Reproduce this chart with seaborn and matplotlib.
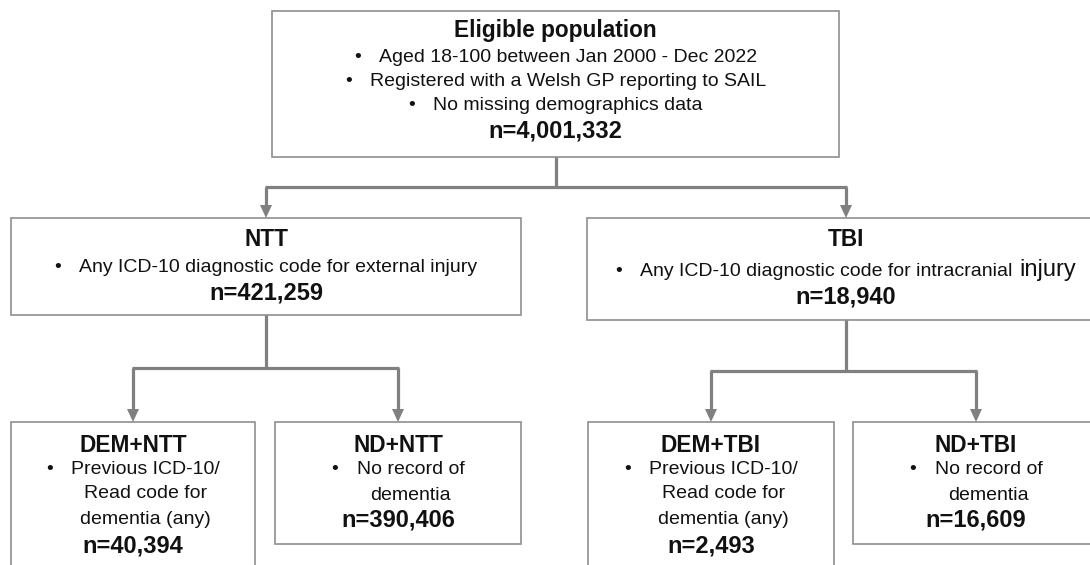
import matplotlib
matplotlib.use("Agg")
import matplotlib.pyplot as plt
from matplotlib.patches import Rectangle, Polygon
import seaborn as sns

# ---- data ----
titles = ["Eligible population", "NTT", "TBI", "DEM+NTT", "ND+NTT", "DEM+TBI", "ND+TBI"]
counts = [4001332, 421259, 18940, 40394, 390406, 2493, 16609]
criteria = [
    ["Aged 18-100 between Jan 2000 - Dec 2022",
     "Registered with a Welsh GP reporting to SAIL",
     "No missing demographics data"],
    ["Any ICD-10 diagnostic code for external injury"],
    ["Any ICD-10 diagnostic code for intracranial injury"],
    ["Previous ICD-10/\nRead code for\ndementia (any)"],
    ["No record of\ndementia"],
    ["Previous ICD-10/\nRead code for\ndementia (any)"],
    ["No record of\ndementia"],
]
parents = [None, 0, 0, 1, 1, 2, 2]

# ---- layout (pixels, y down) ----
boxes = [(272, 11, 839, 157), (11, 218, 521, 315), (587, 218, 1105, 320),
         (11, 422, 255, 600), (275, 422, 521, 544),
         (588, 422, 834, 600), (853, 422, 1099, 544)]
rows = [[31, 57, 81, 105, 131], [240, 267, 293], [240, 271, 297],
        [445, 470, 494, 519, 546], [446, 470, 495, 520],
        [445, 470, 494, 519, 546], [446, 470, 495, 520]]
branch_y = {0: 187, 1: 368, 2: 371}
big_word = {2: "injury"}   # this word is set larger in the original

edge_col = "#8f8f8f"
line_col = "#808080"
txt_col = "#111111"
title_size = 16.3
count_size = 17
body_size = 14
bullet_gap = 25

sns.set_theme(style="white")
plt.rcParams['font.family'] = ['Liberation Sans', 'DejaVu Sans']

fig = plt.figure(figsize=(10.9, 5.65), dpi=100)
ax = fig.add_axes([0, 0, 1, 1])
ax.set_xlim(0, 1090)
ax.set_ylim(565, 0)
ax.axis("off")
renderer = fig.canvas.get_renderer()


def width_of(t):
    return t.get_window_extent(renderer).width


def put(x, y, s, size, weight="normal", ha="center"):
    return ax.text(x, y, s, fontsize=size, fontweight=weight, ha=ha,
                   va="center", color=txt_col)


def center(b):
    return (b[0] + b[2]) / 2


# boxes and text
for i, b in enumerate(boxes):
    ax.add_patch(Rectangle((b[0], b[1]), b[2] - b[0], b[3] - b[1],
                           fill=True, facecolor="white", edgecolor=edge_col, lw=1.2))
    cx = center(b)
    r = iter(rows[i])
    put(cx, next(r), titles[i], title_size, "bold")
    for item in criteria[i]:
        lines = item.split("\n")
        first = lines[0]
        extra = None
        if i in big_word and first.endswith(big_word[i]):
            first = first[: -len(big_word[i])].rstrip()
            extra = big_word[i]
        y = next(r)
        t = put(0, y, first, body_size, ha="left")
        w = width_of(t)
        total = bullet_gap + w
        if extra:
            t2 = put(0, y - 1, extra, body_size + 3, ha="left")
            w2 = width_of(t2)
            total += 7 + w2
        x0 = cx - total / 2
        put(x0, y, "\u2022", body_size, ha="left")
        t.set_x(x0 + bullet_gap)
        if extra:
            t2.set_x(x0 + bullet_gap + w + 7)
        for ln in lines[1:]:
            put(cx + bullet_gap / 2, next(r), ln, body_size)
    put(cx, next(r), f"n={counts[i]:,}", count_size, "bold")


# connectors
def arrow_down(x, y0, y1):
    ax.plot([x, x], [y0, y1 - 10], color=line_col, lw=2.3, solid_capstyle="butt")
    ax.add_patch(Polygon([(x - 6, y1 - 13), (x + 6, y1 - 13), (x, y1)],
                         closed=True, color=line_col, lw=0))


for p in set(q for q in parents if q is not None):
    kids = [k for k, q in enumerate(parents) if q == p]
    px = center(boxes[p])
    by = branch_y[p]
    kx = [center(boxes[k]) for k in kids]
    ax.plot([px, px], [boxes[p][3], by], color=line_col, lw=2.3, solid_capstyle="butt")
    ax.plot([min(kx) - 1, max(kx) + 1], [by, by], color=line_col, lw=2.3,
            solid_capstyle="butt")
    for k, x in zip(kids, kx):
        arrow_down(x, by, boxes[k][1])

fig.savefig("out.png", dpi=100, facecolor="white")
